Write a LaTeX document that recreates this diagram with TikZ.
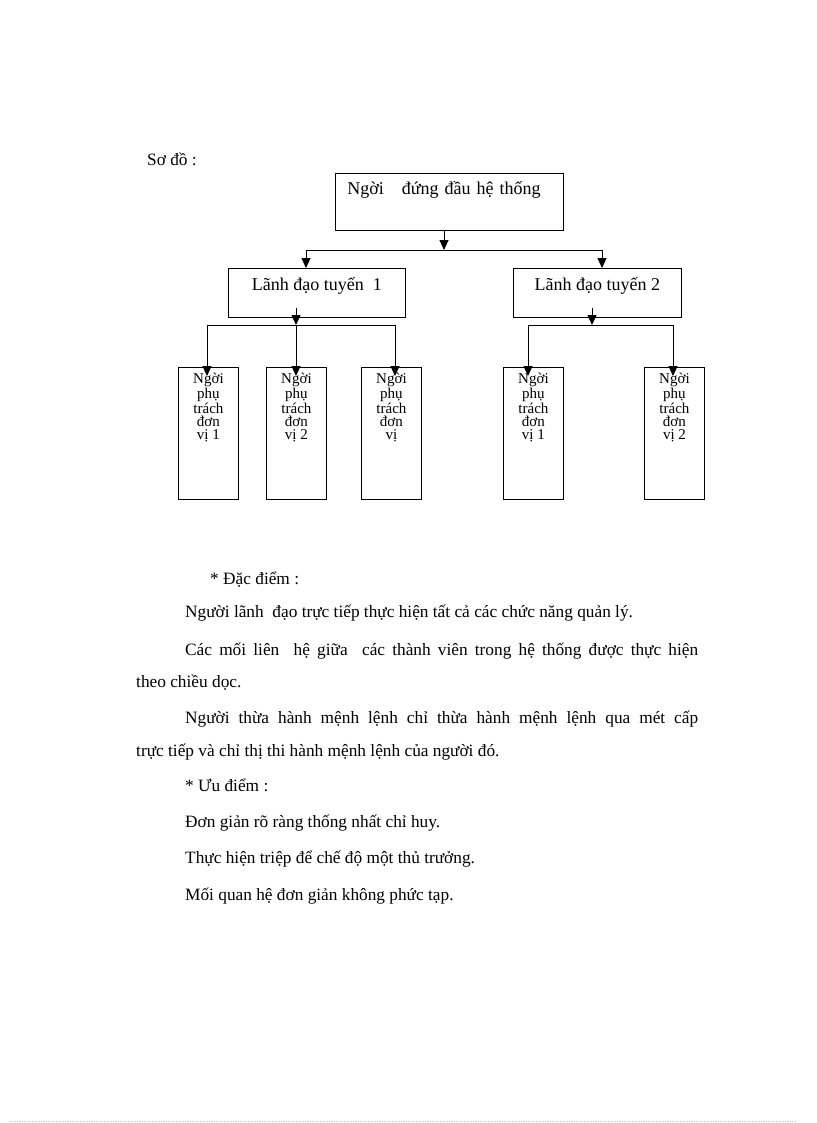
\documentclass[tikz,border=0pt]{standalone}
\usepackage{fontspec}
\setmainfont{Liberation Serif}
\usetikzlibrary{arrows.meta,positioning}
\newcommand{\donvi}[1]{\parbox[t][128pt][t]{56pt}{\centering
  \fontsize{15}{13}\selectfont\vspace*{4pt}#1}}
\tikzset{
  chartbox/.style = {rectangle, draw=black, line width=0.9pt, inner sep=0pt,
    font=\fontsize{18}{21}\selectfont},
  headbox/.style = {chartbox, anchor=north west, inner xsep=12pt,
    text width=204pt, align=left, text height=21pt, text depth=36pt},% nguoi dung dau
  tuyenbox/.style = {chartbox, anchor=north west, align=center,
    text height=22pt, text depth=27pt},% lanh dao tuyen
  donvibox/.style = {chartbox, anchor=north west, inner sep=2pt},% don vi
  link/.style = {line width=0.9pt},
  para/.style = {anchor=base west, inner sep=0pt,
    font=\fontsize{17.3}{20}\selectfont}
}

\begin{document}
\begin{tikzpicture}[x=1pt,y=-1pt,>={Triangle[length=10pt,width=9pt]}]
\useasboundingbox (0,0) rectangle (816,1123);
\node [para] (title) at (147,166) {Sơ đồ :};
% so do
\node [headbox] (head) at (335,173) {Ngời \ \ đứng đầu hệ thống};
\node [tuyenbox, minimum width=177pt] (tuyen1) at (228,268) {Lãnh đạo tuyến \ 1};
\node [tuyenbox, minimum width=168pt] (tuyen2) at (513,268) {Lãnh đạo tuyến 2};
\node [donvibox] (dv11) at (178,367) {\donvi{Ngời\\phụ\\trách\\đơn\\vị 1}};
\node [donvibox] (dv12) at (266,367) {\donvi{Ngời\\phụ\\trách\\đơn\\vị 2}};
\node [donvibox] (dv13) at (361,367) {\donvi{Ngời\\phụ\\trách\\đơn\\vị}};
\node [donvibox] (dv21) at (503,367) {\donvi{Ngời\\phụ\\trách\\đơn\\vị 1}};
\node [donvibox] (dv22) at (644,367) {\donvi{Ngời\\phụ\\trách\\đơn\\vị 2}};
\coordinate (bar0) at (444,250);
\coordinate (bar0l) at (306,250);
\coordinate (bar0r) at (602,250);
\coordinate (bar1) at (296,325);
\coordinate (bar1l) at (207,325);
\coordinate (bar1r) at (395,325);
\coordinate (bar2) at (592,325);
\coordinate (bar2l) at (528,325);
\coordinate (bar2r) at (673,325);
\draw [link,->] (head.south -| bar0) -- (bar0);
\draw [link] (bar0l) -- (bar0r);
\draw [link,->] (bar0l) -- (bar0l |- tuyen1.north);
\draw [link,->] (bar0r) -- (bar0r |- tuyen2.north);
\draw [link,->] ([yshift=10pt]tuyen1.south -| bar1) -- (bar1);
\draw [link] (bar1l) -- (bar1r);
\draw [link,->,shorten >=-9pt] (bar1l) -- (bar1l |- dv11.north);
\draw [link,->,shorten >=-9pt] (bar1) -- (bar1 |- dv12.north);
\draw [link,->,shorten >=-9pt] (bar1r) -- (bar1r |- dv13.north);
\draw [link,->] ([yshift=10pt]tuyen2.south -| bar2) -- (bar2);
\draw [link] (bar2l) -- (bar2r);
\draw [link,->,shorten >=-9pt] (bar2l) -- (bar2l |- dv21.north);
\draw [link,->,shorten >=-9pt] (bar2r) -- (bar2r |- dv22.north);
% dac diem, uu diem
\node [para] (dd) at (210,584) {* Đặc điểm :};
\node [para] (dd1) at (185,617) {Người lãnh \ đạo trực tiếp thực hiện tất cả các chức năng quản lý.};
\node [para] (dd2) at (185,655) {\makebox[513pt][s]{Các mối liên \ hệ giữa \ các thành viên trong hệ thống được thực hiện}};
\node [para] (dd2b) at (136,687) {theo chiều dọc.};
\node [para] (dd3) at (185,723) {\makebox[513pt][s]{Người thừa hành mệnh lệnh chỉ thừa hành mệnh lệnh qua mét cấp}};
\node [para] (dd3b) at (136,756) {trực tiếp và chỉ thị thi hành mệnh lệnh của người đó.};
\node [para] (ud) at (185,791) {* Ưu điểm :};
\node [para] (ud1) at (185,827) {Đơn giản rõ ràng thống nhất chỉ huy.};
\node [para] (ud2) at (185,863) {Thực hiện triệp để chế độ một thủ trưởng.};
\node [para] (ud3) at (185,900) {Mối quan hệ đơn giản không phức tạp.};
\coordinate (footl) at (10,1121);
\coordinate (footr) at (795,1121);
\draw [gray!50, dotted] (footl) -- (footr);
\end{tikzpicture}
\end{document}
